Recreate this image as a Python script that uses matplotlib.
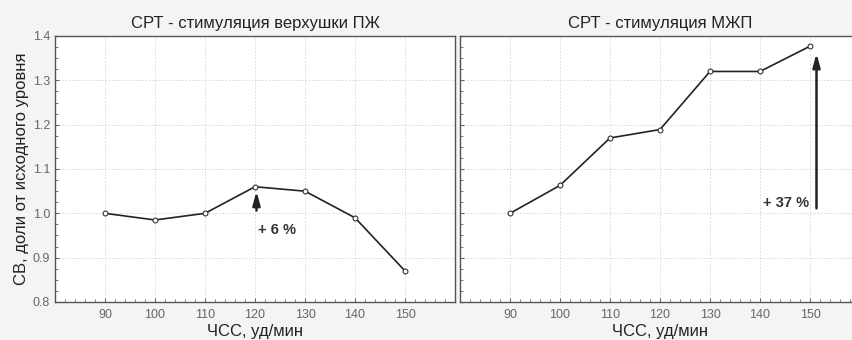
import matplotlib
matplotlib.use("Agg")
import matplotlib.pyplot as plt
from matplotlib.ticker import MultipleLocator

plt.rcParams['font.family'] = ['Liberation Sans', 'DejaVu Sans']

hr = [90, 100, 110, 120, 130, 140, 150]
co_apex = [1.0, 0.985, 1.0, 1.06, 1.05, 0.99, 0.87]
co_septum = [1.0, 1.063, 1.17, 1.189, 1.32, 1.32, 1.377]

title_apex = "СРТ - стимуляция верхушки ПЖ"
title_septum = "СРТ - стимуляция МЖП"
xlabel = "ЧСС, уд/мин"
ylabel = "СВ, доли от исходного уровня"

fig = plt.figure(figsize=(8.52, 3.4), dpi=100, facecolor='#f4f4f4')
ax1 = fig.add_axes([55/852, 38/340, 400/852, 266/340])
ax2 = fig.add_axes([460/852, 38/340, 400/852, 266/340])

for ax in (ax1, ax2):
    ax.set_facecolor('white')
    ax.set_xlim(80, 160)
    ax.set_ylim(0.8, 1.4)
    ax.set_xticks(hr)
    ax.yaxis.set_major_locator(MultipleLocator(0.1))
    ax.yaxis.set_minor_locator(MultipleLocator(0.025))
    ax.xaxis.set_minor_locator(MultipleLocator(2))
    ax.grid(True, which='major', color='#d4d4d4', linestyle=(0, (2, 2)), linewidth=0.6)
    ax.tick_params(which='both', direction='in', colors='#666666', labelsize=9, length=3)
    ax.tick_params(axis='x', which='major', pad=5)
    ax.tick_params(which='minor', length=2)
    for s in ax.spines.values():
        s.set_color('#555555')
        s.set_linewidth(1.0)
    ax.set_xlabel(xlabel, fontsize=12, color='#222222', labelpad=2)

ax1.yaxis.set_major_formatter(plt.FuncFormatter(lambda v, p: f"{v:.1f}"))
ax2.set_yticklabels([])

ax1.plot(hr, co_apex, color='#222222', lw=1.2, marker='o', ms=3.5, mfc='white', mec='#333333', mew=0.8)
ax2.plot(hr, co_septum, color='#222222', lw=1.2, marker='o', ms=3.5, mfc='white', mec='#333333', mew=0.8)

ax1.set_title(title_apex, fontsize=12, color='#222222', pad=6)
ax2.set_title(title_septum, fontsize=12, color='#222222', pad=6)
ax1.set_ylabel(ylabel, fontsize=12, color='#222222', labelpad=3)

ax1.annotate('', xy=(120.3, co_apex[3] - 0.004), xytext=(120.3, 1.0),
             arrowprops=dict(arrowstyle='-|>,head_width=0.22,head_length=0.8', color='#222222', lw=1.8, mutation_scale=10))
ax1.text(120.5, 0.963, "+ 6 %", fontsize=10.5, fontweight='bold', color='#333333', va='center')

ax2.annotate('', xy=(151.3, co_septum[6] - 0.01), xytext=(151.3, 1.005),
             arrowprops=dict(arrowstyle='-|>,head_width=0.22,head_length=0.8', color='#222222', lw=1.8, mutation_scale=10))
ax2.text(149.8, 1.024, "+ 37 %", fontsize=10.5, fontweight='bold', color='#333333', va='center', ha='right')

fig.savefig('out.png', dpi=100, facecolor=fig.get_facecolor())
